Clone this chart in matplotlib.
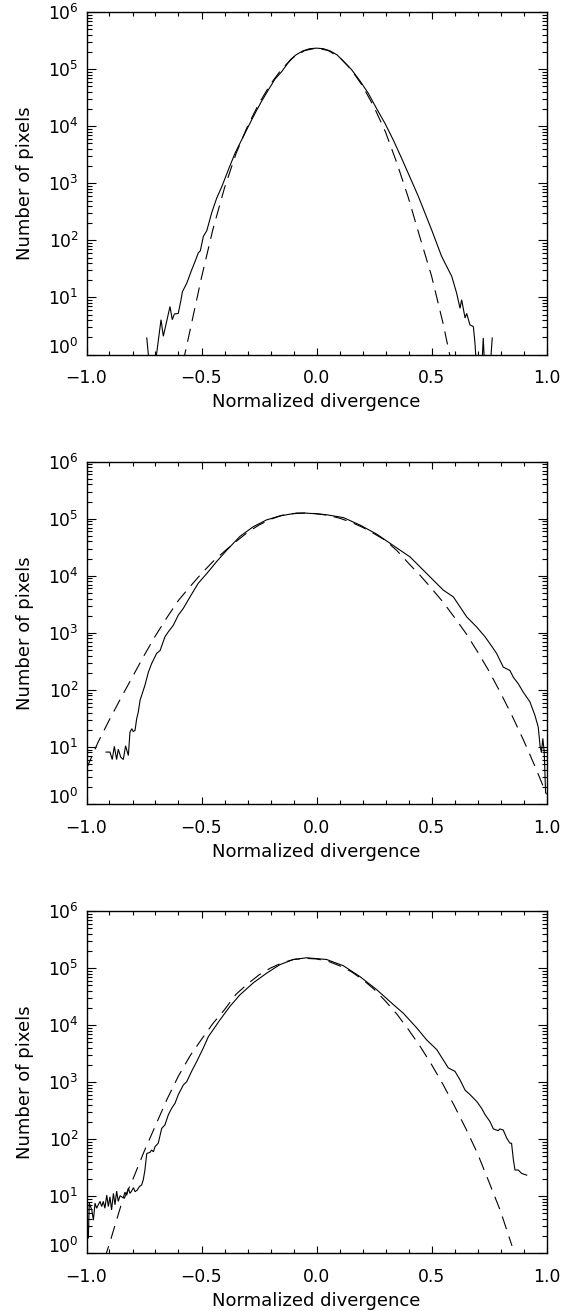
import numpy as np
import matplotlib
matplotlib.use("Agg")
import matplotlib.pyplot as plt
from matplotlib.ticker import FixedLocator, MultipleLocator, LogLocator, FixedFormatter, NullFormatter

plt.rcParams['font.family'] = ['DejaVu Sans']
plt.rcParams['mathtext.fontset'] = 'dejavusans'

# ---------------- data (x = normalized divergence, values = log10(number of pixels)) -------------
# Panel 1 histogram (solid)
p1_x = [-0.738, -0.724, -0.702, -0.676, -0.666, -0.637, -0.627, -0.618, -0.601, -0.589, -0.583,
        -0.564, -0.543, -0.528, -0.514, -0.505, -0.492, -0.477, -0.456, -0.434, -0.412, -0.383,
        -0.354, -0.311, -0.267, -0.24, -0.209, -0.18, -0.151, -0.115, -0.09, -0.06, -0.03, 0.0,
        0.03, 0.06, 0.09, 0.12, 0.153, 0.19, 0.225, 0.26, 0.298, 0.335, 0.370, 0.405, 0.443,
        0.501, 0.544, 0.588, 0.609, 0.624, 0.631, 0.646, 0.653, 0.667, 0.682, 0.689, 0.697,
        0.718, 0.725, 0.732, 0.754, 0.764]
p1_log = [0.29, -0.30, -0.20, 0.61, 0.32, 0.84, 0.61, 0.71, 0.72, 0.96, 1.10,
          1.25, 1.48, 1.63, 1.78, 1.82, 2.07, 2.17, 2.48, 2.74, 2.94, 3.24,
          3.53, 3.88, 4.23, 4.43, 4.64, 4.83, 4.96, 5.16, 5.25, 5.32, 5.36, 5.37,
          5.36, 5.32, 5.25, 5.13, 4.99, 4.79, 4.58, 4.32, 4.05, 3.75, 3.44, 3.12, 2.77,
          2.18, 1.72, 1.37, 1.08, 0.81, 0.96, 0.64, 0.72, 0.52, 0.49, 0.20, -0.30,
          -0.30, 0.29, -0.30, -0.30, 0.29]
# Panel 1 Gaussian fit (dashed)
p1_fit_x = [-0.60, -0.55, -0.50, -0.45, -0.40, -0.35, -0.30, -0.25, -0.20, -0.15, -0.10, -0.05,
            0.00, 0.05, 0.10, 0.15, 0.20, 0.25, 0.30, 0.35, 0.40, 0.45, 0.50, 0.55, 0.60]
p1_fit_log = [-0.50, 0.42, 1.35, 2.20, 2.92, 3.52, 4.00, 4.40, 4.74, 5.01, 5.21, 5.33,
              5.37, 5.33, 5.21, 5.00, 4.71, 4.34, 3.90, 3.35, 2.74, 2.05, 1.38, 0.55, -0.40]

# Panel 2 histogram (solid)
p2_x = [-0.915, -0.898, -0.888, -0.879, -0.869, -0.862, -0.851, -0.840, -0.830, -0.818, -0.811,
        -0.803, -0.797, -0.789, -0.782, -0.775, -0.767, -0.746, -0.731, -0.717, -0.695, -0.680,
        -0.659, -0.644, -0.623, -0.601, -0.579, -0.550, -0.514, -0.477, -0.434, -0.390, -0.333,
        -0.275, -0.217, -0.159, -0.086, -0.05, -0.014, 0.044, 0.117, 0.189, 0.262, 0.334, 0.407,
        0.479, 0.551, 0.595, 0.653, 0.697, 0.733, 0.754, 0.783, 0.812, 0.841, 0.856, 0.877,
        0.899, 0.928, 0.950, 0.964, 0.972, 0.978, 0.984, 0.990, 0.996]
p2_log = [0.91, 0.91, 0.78, 1.01, 0.78, 0.96, 0.82, 0.78, 1.02, 0.85, 1.26,
          1.32, 1.27, 1.29, 1.49, 1.61, 1.82, 2.08, 2.31, 2.46, 2.64, 2.69,
          2.93, 3.02, 3.13, 3.31, 3.43, 3.63, 3.87, 4.04, 4.25, 4.45, 4.69,
          4.86, 4.98, 5.05, 5.10, 5.10, 5.09, 5.07, 5.02, 4.89, 4.73, 4.53, 4.33,
          4.04, 3.75, 3.63, 3.28, 3.10, 2.93, 2.81, 2.64, 2.40, 2.34, 2.22, 2.11,
          1.96, 1.79, 1.55, 1.35, 1.02, 0.90, 1.15, 0.92, 0.20]
# Panel 2 Gaussian fit (dashed)
p2_fit_x = [-1.00, -0.95, -0.90, -0.85, -0.80, -0.75, -0.70, -0.65, -0.60, -0.55, -0.50, -0.45,
            -0.40, -0.35, -0.30, -0.25, -0.20, -0.15, -0.10, -0.05, 0.00, 0.05, 0.10, 0.15,
            0.20, 0.25, 0.30, 0.35, 0.40, 0.45, 0.50, 0.55, 0.60, 0.65, 0.70, 0.75, 0.80,
            0.85, 0.90, 0.95, 1.00]
p2_fit_log = [0.62, 1.08, 1.48, 1.86, 2.23, 2.60, 2.95, 3.27, 3.57, 3.81, 4.04, 4.25,
              4.43, 4.60, 4.76, 4.89, 4.99, 5.06, 5.09, 5.10, 5.09, 5.06, 5.01, 4.94,
              4.85, 4.74, 4.62, 4.44, 4.22, 4.01, 3.78, 3.54, 3.27, 2.99, 2.67, 2.33, 1.95,
              1.55, 1.12, 0.66, 0.17]

# Panel 3 histogram (solid)
p3_x = [-0.999, -0.992, -0.988, -0.977, -0.970, -0.963, -0.956, -0.949, -0.941, -0.934, -0.927,
        -0.920, -0.912, -0.905, -0.898, -0.891, -0.883, -0.876, -0.869, -0.862, -0.854, -0.840,
        -0.833, -0.825, -0.818, -0.811, -0.804, -0.796, -0.789, -0.779, -0.770, -0.760, -0.753,
        -0.746, -0.738, -0.724, -0.717, -0.709, -0.702, -0.688, -0.673, -0.659, -0.644, -0.630,
        -0.615, -0.601, -0.579, -0.564, -0.543, -0.521, -0.492, -0.470, -0.449, -0.420, -0.376,
        -0.333, -0.275, -0.217, -0.159, -0.101, -0.043, 0.015, 0.044, 0.117, 0.189, 0.262,
        0.334, 0.377, 0.436, 0.479, 0.523, 0.551, 0.573, 0.602, 0.624, 0.646, 0.668, 0.697,
        0.718, 0.733, 0.754, 0.769, 0.790, 0.797, 0.812, 0.827, 0.841, 0.848, 0.856, 0.863,
        0.877, 0.892, 0.914]
p3_log = [0.61, 0.26, 0.88, 0.76, 0.58, 0.88, 0.79, 0.85, 0.91, 0.82, 0.91,
          0.79, 1.02, 0.82, 0.99, 0.76, 1.05, 0.85, 1.09, 0.91, 1.01, 0.97,
          1.07, 1.02, 1.14, 1.05, 1.09, 1.15, 1.08, 1.11, 1.17, 1.20, 1.29,
          1.46, 1.75, 1.77, 1.81, 1.78, 1.87, 1.93, 2.19, 2.25, 2.43, 2.54,
          2.63, 2.78, 2.95, 3.01, 3.19, 3.36, 3.60, 3.80, 3.92, 4.09, 4.33,
          4.53, 4.74, 4.91, 5.06, 5.15, 5.18, 5.16, 5.15, 5.04, 4.85, 4.62,
          4.36, 4.21, 3.95, 3.74, 3.57, 3.39, 3.25, 3.19, 3.04, 2.86, 2.78, 2.66,
          2.54, 2.43, 2.31, 2.18, 2.15, 2.18, 2.16, 2.02, 1.93, 1.93, 1.64, 1.46,
          1.46, 1.40, 1.37]
# Panel 3 Gaussian fit (dashed)
p3_fit_x = [-0.95, -0.90, -0.85, -0.80, -0.75, -0.70, -0.65, -0.60, -0.55, -0.50, -0.45, -0.40,
            -0.35, -0.30, -0.25, -0.20, -0.15, -0.10, -0.05, 0.00, 0.05, 0.10, 0.15, 0.20,
            0.25, 0.30, 0.35, 0.40, 0.45, 0.50, 0.55, 0.60, 0.65, 0.70, 0.75, 0.80, 0.85]
p3_fit_log = [-0.45, 0.17, 0.84, 1.28, 1.78, 2.24, 2.70, 3.11, 3.46, 3.75, 4.03, 4.27,
              4.54, 4.72, 4.88, 5.00, 5.09, 5.15, 5.17, 5.16, 5.12, 5.04, 4.94, 4.80,
              4.63, 4.42, 4.19, 3.92, 3.63, 3.31, 2.96, 2.58, 2.18, 1.75, 1.25, 0.74, 0.13]

x_ticks = [-1.0, -0.5, 0.0, 0.5, 1.0]
x_ticklabels = ['\u22121.0', '\u22120.5', '0.0', '0.5', '1.0']
y_ticks = [1e0, 1e1, 1e2, 1e3, 1e4, 1e5, 1e6]
y_ticklabels = [r'$10^{0}$', r'$10^{1}$', r'$10^{2}$', r'$10^{3}$', r'$10^{4}$', r'$10^{5}$', r'$10^{6}$']
xlabel = 'Normalized divergence'
ylabel = 'Number of pixels'

panels = [
    (p1_x, p1_log, p1_fit_x, p1_fit_log),
    (p2_x, p2_log, p2_fit_x, p2_fit_log),
    (p3_x, p3_log, p3_fit_x, p3_fit_log),
]

# ---------------- layout ----------------
W, H = 571, 1311
fig = plt.figure(figsize=(W / 100, H / 100), dpi=100)
left = 86.5 / W
width = 460.0 / W
tops_px = [12.2, 461.7, 911.0]
height_px = 342.3

for (hx, hlog, fx, flog), top in zip(panels, tops_px):
    ax = fig.add_axes([left, 1 - (top + height_px) / H, width, height_px / H])
    ax.plot(hx, 10 ** np.array(hlog), color='black', lw=0.8, solid_joinstyle='miter')
    ax.plot(fx, 10 ** np.array(flog), color='black', lw=0.8, dashes=(12, 7))
    ax.set_yscale('log')
    ax.set_xlim(-1.0, 1.0)
    ax.set_ylim(1.0, 1.0e6)

    ax.xaxis.set_major_locator(FixedLocator(x_ticks))
    ax.xaxis.set_major_formatter(FixedFormatter(x_ticklabels))
    ax.xaxis.set_minor_locator(MultipleLocator(0.1))
    ax.yaxis.set_major_locator(FixedLocator(y_ticks))
    ax.yaxis.set_major_formatter(FixedFormatter(y_ticklabels))
    ax.yaxis.set_minor_locator(LogLocator(base=10, subs=np.arange(2, 10)))
    ax.yaxis.set_minor_formatter(NullFormatter())

    ax.tick_params(which='both', direction='in', top=True, right=True, color='black', width=0.8)
    ax.tick_params(axis='x', which='major', length=5.0, pad=10.5, labelsize=12.3)
    ax.tick_params(axis='x', which='minor', length=3.0)
    ax.tick_params(axis='y', which='major', length=6.5, pad=5.5, labelsize=12.3)
    ax.tick_params(axis='y', which='minor', length=3.8)

    for sp in ax.spines.values():
        sp.set_linewidth(1.0)
        sp.set_color('black')

    ax.set_xlabel(xlabel, fontsize=13, labelpad=4.5)
    ax.set_ylabel(ylabel, fontsize=13, labelpad=10)

    # bottom label in IDL style sits slightly above its tick
    ax.yaxis.get_major_ticks()[0].label1.set_verticalalignment('baseline')

fig.savefig('out.png', dpi=100, facecolor='white')
